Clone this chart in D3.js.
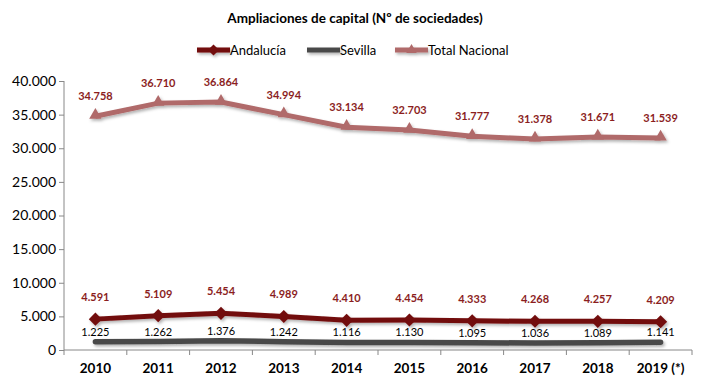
<!DOCTYPE html>
<html><head><meta charset="utf-8">
<script src="https://cdn.jsdelivr.net/npm/d3@7"></script>
<style>body{margin:0;background:#fff}svg{display:block}text{font-family:Lato,"Open Sans",sans-serif}</style>
</head><body><svg id="c" width="709" height="387"></svg>
<script>
const categories = ["2010","2011","2012","2013","2014","2015","2016","2017","2018","2019 (*)"];
const andalucia = [4591,5109,5454,4989,4410,4454,4333,4268,4257,4209];
const sevilla = [1225,1262,1376,1242,1116,1130,1095,1036,1089,1141];
const totalNacional = [34758,36710,36864,34994,33134,32703,31777,31378,31671,31539];
const yTicks = [0,5000,10000,15000,20000,25000,30000,35000,40000];

const svg = d3.select("#c");
const fmt = v => d3.format(",")(v).replace(/,/g,".");
const x = d3.scaleBand().domain(categories).range([64,692]);
const y = d3.scaleLinear().domain([0,40000]).range([350,81]);
const cx = c => x(c)+x.bandwidth()/2;

const defs = svg.append("defs");
const f = defs.append("filter").attr("id","sh").attr("filterUnits","userSpaceOnUse")
  .attr("x",0).attr("y",0).attr("width",709).attr("height",387);
f.append("feDropShadow").attr("dx",1.5).attr("dy",2).attr("stdDeviation",1.5).attr("flood-color","#000").attr("flood-opacity",0.3);

// title
svg.append("text").attr("x",355).attr("y",23).attr("text-anchor","middle")
  .attr("font-size",13.5).attr("font-weight","bold").attr("fill","#000").text("Ampliaciones de capital (Nº de sociedades)");

// axes
const yAxis = svg.append("g").attr("transform","translate(64,0)")
  .call(d3.axisLeft(y).tickValues(yTicks).tickFormat(fmt).tickSize(5).tickPadding(3));
yAxis.select(".domain").attr("stroke","#888").attr("d","M0,81V350");
yAxis.selectAll(".tick line").attr("stroke","#888");
yAxis.selectAll("text").attr("font-size",14).attr("fill","#000").style("font-family","Lato,sans-serif");

const xAxis = svg.append("g").attr("transform","translate(0,350)")
  .call(d3.axisBottom(x).tickSize(0).tickPadding(13));
xAxis.select(".domain").attr("stroke","#888").attr("d","M64,0H692");
xAxis.selectAll("text").attr("font-size",13.5).attr("font-weight","bold").attr("fill","#000").style("font-family","Lato,sans-serif");
const bounds = categories.map(c=>x(c)).concat([692]);
svg.append("g").selectAll("line").data(bounds).join("line")
  .attr("x1",d=>d).attr("x2",d=>d).attr("y1",350).attr("y2",355).attr("stroke","#888");

const line = d3.line().x((d,i)=>cx(categories[i])).y(d=>y(d));
const cA = "#720A0A", cS = "#4A4A4A", cT = "#B06A6A", cLbl = "#8B1E1E";

const diamond = d3.symbol().type(d3.symbolDiamond2).size(110);
const tri = d3.symbol().type(d3.symbolTriangle2).size(110);

// series (line + markers in one shadowed group)
const gS = svg.append("g").attr("filter","url(#sh)");
gS.append("path").datum(sevilla).attr("d",line).attr("fill","none").attr("stroke",cS).attr("stroke-width",5.5).attr("stroke-linecap","round");

const gA = svg.append("g").attr("filter","url(#sh)");
gA.append("path").datum(andalucia).attr("d",line).attr("fill","none").attr("stroke",cA).attr("stroke-width",5);
gA.selectAll("path.m").data(andalucia).join("path").attr("class","m")
  .attr("d",diamond).attr("transform",(d,i)=>`translate(${cx(categories[i])},${y(d)})`).attr("fill",cA);

const gT = svg.append("g").attr("filter","url(#sh)");
gT.append("path").datum(totalNacional).attr("d",line).attr("fill","none").attr("stroke",cT).attr("stroke-width",5);
gT.selectAll("path.m").data(totalNacional).join("path").attr("class","m")
  .attr("d",tri).attr("transform",(d,i)=>`translate(${cx(categories[i])},${y(d)-1})`).attr("fill",cT);

// labels
const lblStyle = s => s.attr("text-anchor","middle").attr("font-size",11).style("font-family","Lato,sans-serif");
svg.append("g").selectAll("text").data(totalNacional).join("text").call(lblStyle)
  .attr("x",(d,i)=>cx(categories[i])).attr("y",d=>y(d)-16).attr("fill",cLbl).attr("font-weight","bold").text(fmt);
svg.append("g").selectAll("text").data(andalucia).join("text").call(lblStyle)
  .attr("x",(d,i)=>cx(categories[i])).attr("y",d=>y(d)-18).attr("fill",cLbl).attr("font-weight","bold").text(fmt);
svg.append("g").selectAll("text").data(sevilla).join("text").call(lblStyle)
  .attr("x",(d,i)=>cx(categories[i])).attr("y",d=>y(d)-6).attr("fill","#000").text(fmt);

// legend
const legend = [
  {name:"Andalucía", color:cA, sym:diamond, x0:197},
  {name:"Sevilla", color:cS, sym:null, x0:307},
  {name:"Total Nacional", color:cT, sym:tri, x0:395}
];
const lg = svg.append("g");
legend.forEach(l=>{
  const g = lg.append("g").attr("filter","url(#sh)");
  g.append("line").attr("x1",l.x0).attr("x2",l.x0+33).attr("y1",50).attr("y2",50).attr("stroke",l.color).attr("stroke-width",5);
  if(l.sym) g.append("path").attr("d",l.sym.size(80)).attr("transform",`translate(${l.x0+16.5},50)`).attr("fill",l.color);
  lg.append("text").attr("x",l.x0+33).attr("y",55).attr("font-size",13).attr("fill","#000").text(l.name);
});
</script></body></html>
